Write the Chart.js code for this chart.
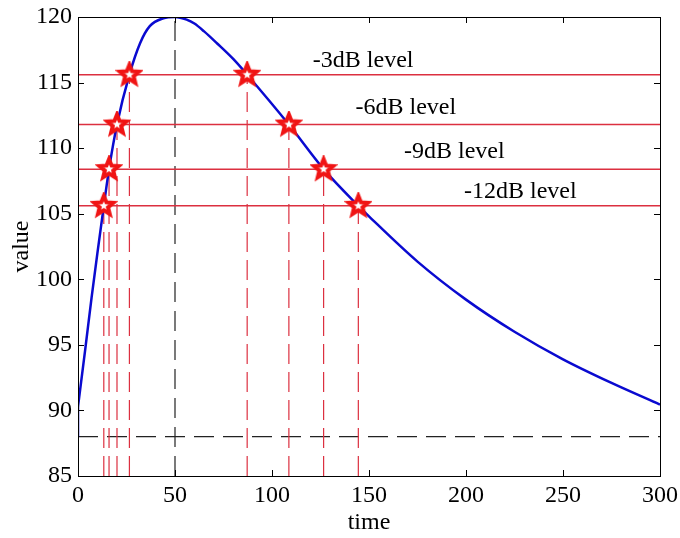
<!DOCTYPE html>
<html>
<head>
<meta charset="utf-8">
<script src="https://cdn.jsdelivr.net/npm/chart.js@4.4.1/dist/chart.umd.min.js"></script>
<style>
  html, body { margin: 0; padding: 0; background: #fff; }
  #wrap { width: 680px; height: 538px; }
</style>
</head>
<body>
<div id="wrap"><canvas id="c" width="680" height="538"></canvas></div>
<script>
// curve (starts with a jump from the base value at t=0)
const startValue = 88;
const curveTime  = [0, 3.6, 7, 10, 13.3, 16, 20.1, 26.5, 32, 37, 44, 50, 56, 60, 65, 71.6, 80, 87.2, 108.7, 126.6, 144.5, 150, 175, 200, 225, 250, 275, 300];
const curveValue = [90.3, 94.5, 98.6, 102, 105.6, 108.4, 111.8, 115.6, 118.0, 119.3, 119.9, 120, 119.8, 119.5, 118.9, 118.0, 116.8, 115.6, 111.8, 108.4, 105.6, 104.8, 101.35, 98.45, 96.0, 93.9, 92.1, 90.45];

// level lines and crossing times
const levelValues = [115.6, 111.8, 108.4, 105.6];
const levelNames  = ['-3dB level', '-6dB level', '-9dB level', '-12dB level'];
const riseTimes   = [26.5, 20.1, 16.0, 13.3];
const fallTimes   = [87.2, 108.7, 126.6, 144.5];
const labelTimes  = [147, 169, 194, 228];
const labelValues = [116.7, 113.1, 109.7, 106.7];

const peakTime = 50;
const baseValue = 88;

const xTicks = [0, 50, 100, 150, 200, 250, 300];
const yTicks = [85, 90, 95, 100, 105, 110, 115, 120];

const RED = '#dc3040';
const BLUE = '#0a0ad0';
const serif = 'Liberation Serif, Times New Roman, serif';

// pentagram marker like matlab 'rp'
function makeStar() {
  const cv = document.createElement('canvas');
  cv.width = 28; cv.height = 28;
  const g = cv.getContext('2d');
  g.beginPath();
  for (let i = 0; i < 10; i++) {
    const r = i % 2 === 0 ? 10 : 4.4;
    const a = -Math.PI / 2 + i * Math.PI / 5;
    const px = 14 + r * Math.cos(a), py = 14 + r * Math.sin(a);
    if (i === 0) g.moveTo(px, py); else g.lineTo(px, py);
  }
  g.closePath();
  g.fillStyle = '#fff';
  g.fill();
  g.lineWidth = 4;
  g.strokeStyle = '#f01414';
  g.lineJoin = 'miter';
  g.stroke();
  return cv;
}
const star = makeStar();

const datasets = [];

// stars on top
const starPts = [];
levelValues.forEach((v, i) => {
  starPts.push({ x: riseTimes[i], y: v });
  starPts.push({ x: fallTimes[i], y: v });
});
datasets.push({
  type: 'scatter', data: starPts, pointStyle: star, pointRadius: 11,
  order: 0
});

datasets.push({
  data: curveTime.map((t, i) => ({ x: t, y: curveValue[i] })),
  borderColor: BLUE, borderWidth: 2.5, pointRadius: 0,
  cubicInterpolationMode: 'monotone', order: 1
});
datasets.push({
  data: [{ x: 0, y: startValue }, { x: 0, y: curveValue[0] }],
  borderColor: BLUE, borderWidth: 2.5, pointRadius: 0, order: 1
});

levelValues.forEach(v => {
  datasets.push({
    data: [{ x: 0, y: v }, { x: 300, y: v }],
    borderColor: RED, borderWidth: 1.5, pointRadius: 0, order: 2
  });
});

levelValues.forEach((v, i) => {
  [riseTimes[i], fallTimes[i]].forEach(t => {
    datasets.push({
      data: [{ x: t, y: 85 }, { x: t, y: v }],
      borderColor: RED, borderWidth: 1.2, borderDash: [20, 8],
      pointRadius: 0, order: 3
    });
  });
});

datasets.push({
  data: [{ x: peakTime, y: 85 }, { x: peakTime, y: 120 }],
  borderColor: '#222', borderWidth: 1.2, borderDash: [20, 9], pointRadius: 0, order: 3
});
datasets.push({
  data: [{ x: 0, y: baseValue }, { x: 300, y: baseValue }],
  borderColor: '#222', borderWidth: 1.2, borderDash: [20, 9], pointRadius: 0, order: 3
});

const frame = {
  id: 'frame',
  afterDraw(chart) {
    const { ctx, chartArea: a, scales: { x, y } } = chart;
    ctx.save();
    ctx.strokeStyle = '#000';
    ctx.lineWidth = 1;
    ctx.strokeRect(Math.round(a.left) + 0.5, Math.round(a.top) + 0.5,
      Math.round(a.right - a.left), Math.round(a.bottom - a.top));
    ctx.beginPath();
    xTicks.forEach(v => {
      const px = Math.round(x.getPixelForValue(v)) + 0.5;
      ctx.moveTo(px, a.bottom); ctx.lineTo(px, a.bottom - 6);
      ctx.moveTo(px, a.top); ctx.lineTo(px, a.top + 6);
    });
    yTicks.forEach(v => {
      const py = Math.round(y.getPixelForValue(v)) + 0.5;
      ctx.moveTo(a.left, py); ctx.lineTo(a.left + 6, py);
      ctx.moveTo(a.right, py); ctx.lineTo(a.right - 6, py);
    });
    ctx.stroke();

    ctx.fillStyle = '#000';
    ctx.font = '24px ' + serif;
    ctx.textAlign = 'center';
    ctx.textBaseline = 'middle';
    levelNames.forEach((s, i) => {
      ctx.fillText(s, x.getPixelForValue(labelTimes[i]), y.getPixelForValue(labelValues[i]));
    });
    ctx.restore();
  }
};

// keep the plot box where the reference has it
function noPad(s) {
  s.paddingTop = 0; s.paddingBottom = 0; s.paddingLeft = 0; s.paddingRight = 0;
}

new Chart(document.getElementById('c'), {
  type: 'line',
  data: { datasets },
  options: {
    responsive: false,
    animation: false,
    layout: { padding: { top: 17, right: 20, left: 0, bottom: 0 } },
    plugins: { legend: { display: false }, tooltip: { enabled: false } },
    scales: {
      x: {
        type: 'linear', min: 0, max: 300,
        afterBuildTicks: s => { s.ticks = xTicks.map(v => ({ value: v })); },
        afterFit: s => { s.height = 62; noPad(s); },
        ticks: { color: '#000', font: { family: serif, size: 24 }, padding: 5, maxRotation: 0 },
        grid: { display: false, drawTicks: false },
        border: { display: true, color: '#000', width: 1 },
        title: { display: true, text: 'time', color: '#000', font: { family: serif, size: 24 }, padding: { top: 0, bottom: 1 } }
      },
      y: {
        type: 'linear', min: 85, max: 120,
        afterBuildTicks: s => { s.ticks = yTicks.map(v => ({ value: v })); },
        afterFit: s => { s.width = 78; noPad(s); },
        ticks: { color: '#000', font: { family: serif, size: 24 }, padding: 6 },
        grid: { display: false, drawTicks: false },
        border: { display: true, color: '#000', width: 1 },
        title: { display: true, text: 'value', color: '#000', font: { family: serif, size: 24 }, padding: { top: 7, bottom: 0 } }
      }
    }
  },
  plugins: [frame]
});
</script>
</body>
</html>
